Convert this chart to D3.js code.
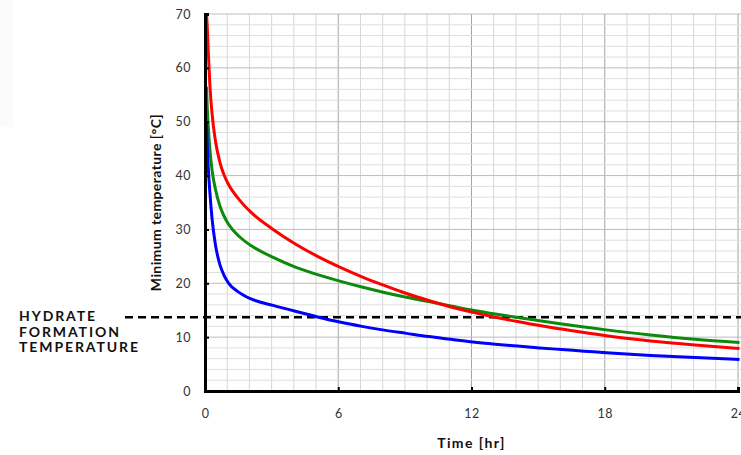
<!DOCTYPE html>
<html>
<head>
<meta charset="utf-8">
<script src="https://cdn.jsdelivr.net/npm/d3@7/dist/d3.min.js"></script>
<style>
  html, body { margin: 0; padding: 0; background: #fff; }
  svg { display: block; }
  text { font-family: Lato, "Open Sans", sans-serif; }
</style>
</head>
<body>
<svg id="chart" width="741" height="455"></svg>
<script>
// Cool-down times (hours) and minimum temperatures (°C) for three cases
const timesRed   = [0, 0.03, 0.08, 0.15, 0.25, 0.4, 0.6, 0.8, 1, 1.5, 2, 3, 4, 5, 6, 7, 8, 9, 10, 11, 12, 13, 14, 15, 16, 17, 18, 20, 22, 24];
const tempRed    = [70, 68, 63, 57, 51.5, 46.5, 42.5, 40, 38.3, 35.4, 33.2, 30.0, 27.3, 25.0, 23.0, 21.2, 19.6, 18.1, 16.8, 15.6, 14.6, 13.7, 12.9, 12.15, 11.5, 10.85, 10.25, 9.3, 8.55, 7.9];

const timesGreen = [0, 0.03, 0.08, 0.15, 0.25, 0.4, 0.6, 0.8, 1, 1.5, 2, 3, 4, 5, 6, 7, 8, 9, 10, 11, 12, 13, 14, 15, 16, 17, 18, 20, 22, 24];
const tempGreen  = [56.5, 53, 49, 45, 41, 37.5, 34.4, 32.4, 30.9, 28.6, 27.0, 24.8, 23.0, 21.6, 20.4, 19.3, 18.3, 17.4, 16.6, 15.8, 15.0, 14.3, 13.65, 13.05, 12.45, 11.9, 11.35, 10.4, 9.6, 9.0];

const timesBlue  = [0, 0.03, 0.08, 0.15, 0.25, 0.4, 0.6, 0.8, 1, 1.4, 2, 3, 4, 5, 6, 7, 8, 9, 10, 11, 12, 13, 14, 15, 16, 17, 18, 20, 22, 24];
const tempBlue   = [50, 46, 41.5, 37, 32, 27.2, 23.5, 21.4, 20.0, 18.5, 17.1, 15.9, 14.8, 13.75, 12.8, 12.0, 11.3, 10.7, 10.1, 9.6, 9.1, 8.7, 8.35, 8.0, 7.7, 7.4, 7.1, 6.6, 6.2, 5.85];

const hydrateTemp = 13.7;
const xTicks = [0, 6, 12, 18, 24];
const yTicks = [0, 10, 20, 30, 40, 50, 60, 70];
const hydrateLabel = ["HYDRATE", "FORMATION", "TEMPERATURE"];

const svg = d3.select("#chart");

const x = d3.scaleLinear().domain([0, 24]).range([205, 738]);
const y = d3.scaleLinear().domain([0, 70]).range([391, 14]);

// faint panel at the top-left corner
svg.append("rect").attr("x", 0).attr("y", 0).attr("width", 13).attr("height", 127).attr("fill", "#fbfbfb");

// grid: every hour, every 2 °C; heavier every 6 h and every 10 °C
const grid = svg.append("g");
grid.selectAll("line.vx").data(d3.range(1, 25)).join("line")
  .attr("x1", d => x(d)).attr("x2", d => x(d))
  .attr("y1", y(70)).attr("y2", y(0))
  .attr("stroke", d => d % 6 === 0 ? "#a4a4a4" : "#d6d6d6")
  .attr("stroke-width", 1);
grid.selectAll("line.hy").data(d3.range(2, 71, 2)).join("line")
  .attr("x1", x(0)).attr("x2", 741)
  .attr("y1", d => y(d)).attr("y2", d => y(d))
  .attr("stroke", d => d % 10 === 0 ? "#bdbdbd" : "#dedede")
  .attr("stroke-width", 1);

// hydrate formation threshold
svg.append("line")
  .attr("x1", 125).attr("x2", 741)
  .attr("y1", y(hydrateTemp)).attr("y2", y(hydrateTemp))
  .attr("stroke", "#000").attr("stroke-width", 2.6)
  .attr("stroke-dasharray", "8,5");

// curves
const line = d3.line().x(d => x(d[0])).y(d => y(d[1])).curve(d3.curveMonotoneX);
const series = [
  { t: timesGreen, v: tempGreen, c: "#0b8a0b" },
  { t: timesRed,   v: tempRed,   c: "#ff0000" },
  { t: timesBlue,  v: tempBlue,  c: "#0000ff" }
];
series.forEach(s => {
  svg.append("path")
    .datum(s.t.map((t, i) => [t, s.v[i]]))
    .attr("d", line)
    .attr("transform", "translate(1.5,0)")
    .attr("fill", "none")
    .attr("stroke", s.c)
    .attr("stroke-width", 3)
    .attr("stroke-linejoin", "round");
});

// axes
const yAxis = d3.axisLeft(y).tickValues(yTicks).tickSize(-4).tickPadding(14);
const xAxis = d3.axisBottom(x).tickValues(xTicks).tickSize(-4).tickPadding(18);

const gy = svg.append("g").attr("transform", `translate(${x(0)},0)`).call(yAxis);
const gx = svg.append("g").attr("transform", `translate(0,${y(0)})`).call(xAxis);

[gx, gy].forEach(g => {
  g.select(".domain").attr("stroke", "#000").attr("stroke-width", 3);
  g.selectAll(".tick line").attr("stroke", "#000").attr("stroke-width", 2);
  g.selectAll(".tick text")
    .attr("fill", "#333")
    .style("font-size", "12.5px")
    .style("letter-spacing", "0.5px")
    .style("font-family", "Lato, 'Open Sans', sans-serif");
});
gy.selectAll(".tick").filter(d => d === 0).select("line").remove();
gx.selectAll(".tick").filter(d => d === 0).select("line").remove();

// axis titles
svg.append("text")
  .attr("x", (x(0) + x(24)) / 2).attr("y", 448)
  .attr("text-anchor", "middle")
  .attr("font-size", 14).attr("font-weight", 700).attr("fill", "#111")
  .attr("letter-spacing", 1.4)
  .text("Time [hr]");

svg.append("text")
  .attr("transform", `translate(161,${(y(0) + y(70)) / 2}) rotate(-90)`)
  .attr("text-anchor", "middle")
  .attr("font-size", 14).attr("font-weight", 700).attr("fill", "#111")
  .attr("letter-spacing", 0.4)
  .text("Minimum temperature [°C]");

// threshold label
svg.append("g").selectAll("text").data(hydrateLabel).join("text")
  .attr("x", 19).attr("y", (d, i) => 321 + i * 15.5)
  .attr("font-size", 14).attr("font-weight", 700).attr("fill", "#111")
  .attr("letter-spacing", 1.9)
  .text(d => d);
</script>
</body>
</html>
